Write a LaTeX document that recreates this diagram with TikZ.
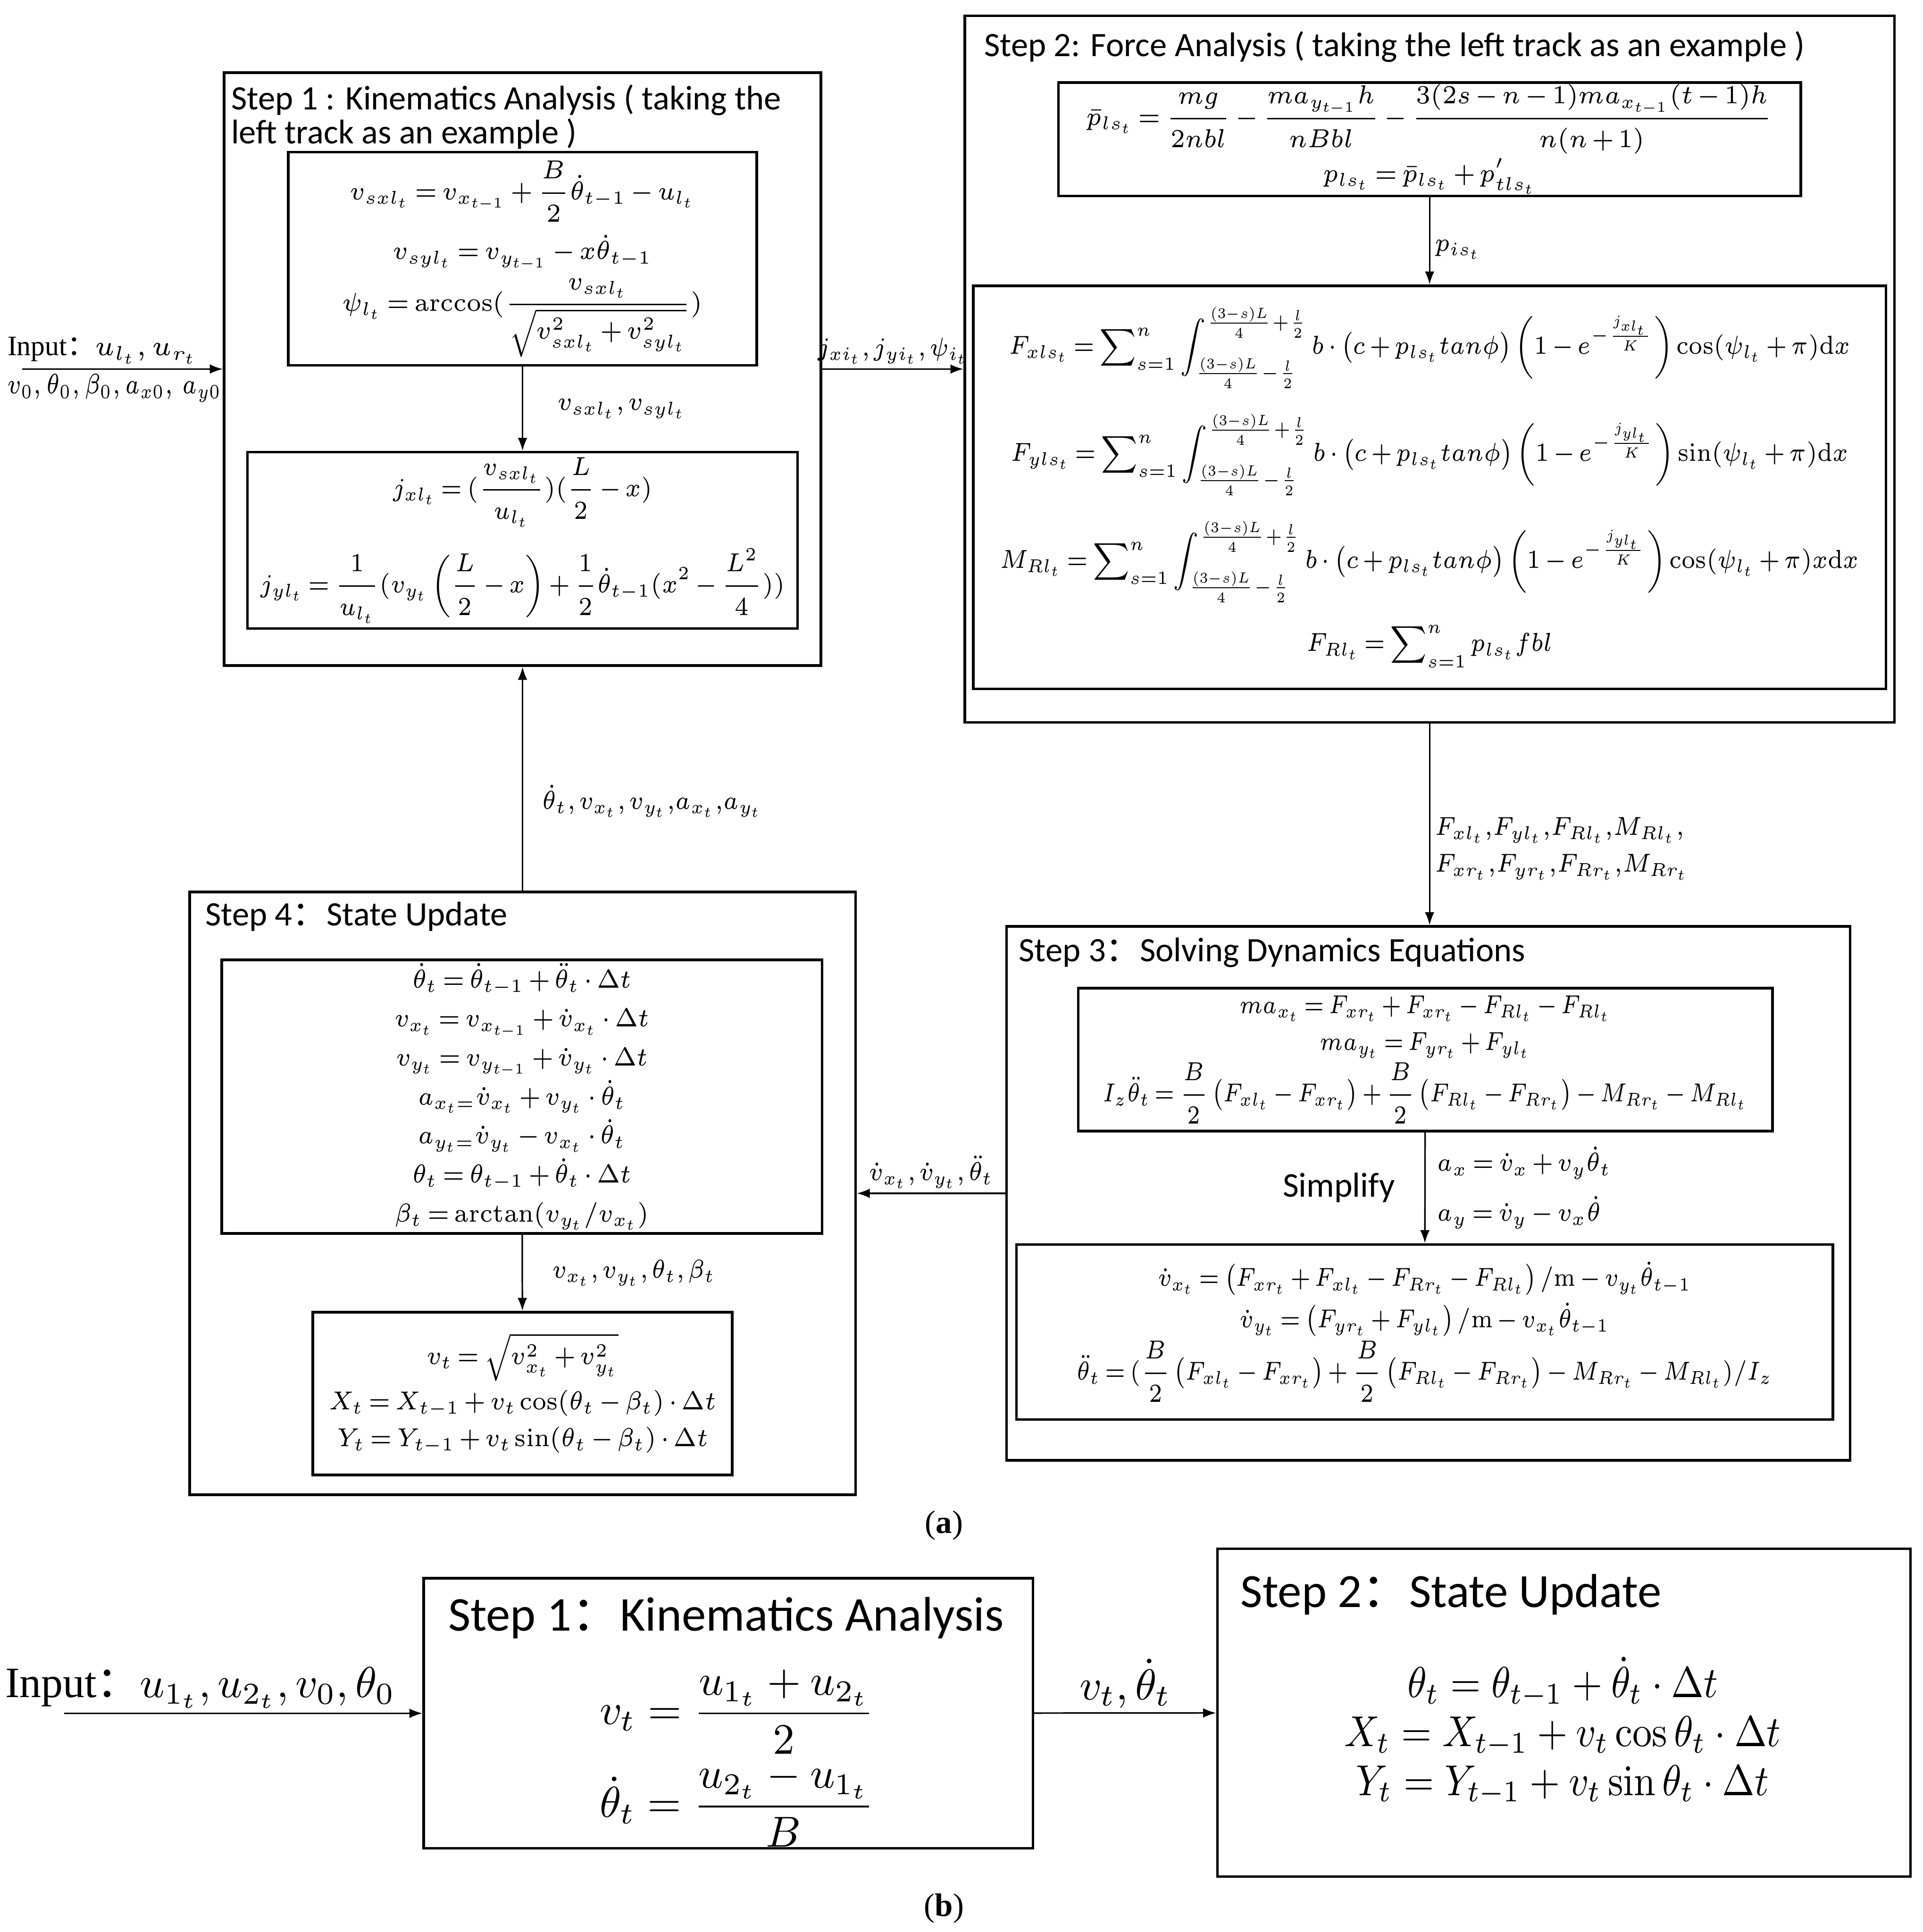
\RequirePackage{fix-cm}
\documentclass[tikz,border=0pt]{standalone}
\usepackage{amsmath}
\usepackage{graphicx}
\usepackage[no-math]{fontspec}
\setmainfont{Liberation Serif}
\newfontfamily\calibri{Carlito}
\newfontfamily\cjk{Noto Sans CJK SC}
\usetikzlibrary{arrows.meta}
\DeclareMathSizes{6}{6}{4.3}{3.4}
\DeclareMathSizes{6.5}{6.5}{4.6}{3.6}
\newcommand{\dcolon}{{\cjk ：}}
\newcommand{\apretar}{\thickmuskip=3mu\medmuskip=2.5mu\thinmuskip=2mu}
\newcommand{\eq}[2][0.9]{\scalebox{#1}[1]{$\displaystyle #2$}}
\begin{document}
\begin{tikzpicture}[
    x=0.01cm, y=-0.01cm,
    marco/.style={rectangle, draw, line width=0.6pt, inner sep=0pt},
    caja/.style={rectangle, draw, line width=0.6pt, align=center, inner sep=0pt, font=\fontsize{6}{9}\selectfont\apretar},
    titulo/.style={anchor=west, align=left, inner sep=0pt, font=\calibri\fontsize{7.9}{7.8}\selectfont},
    etiqueta/.style={align=left, inner sep=1pt, font=\fontsize{6}{8.5}\selectfont\apretar},
    flecha/.style={-{Latex[length=3pt,width=2.2pt]}, line width=0.35pt}
  ]
  \useasboundingbox (0,0) rectangle (1560,1568);

  \node[marco, minimum width=4.84cm, minimum height=4.81cm] (s1) at (424,299.5) {};
  \node[titulo, anchor=north west] (t1) at (187,68) {Step 1 : Kinematics Analysis ( taking the\\left track as an example )};
  \node[caja, minimum width=3.8cm, minimum height=1.73cm] (s1a) at (424,210) {%
    \eq[0.92]{v_{sxl_t}=v_{x_{t-1}}+\frac{B}{2}\dot{\theta}_{t-1}-u_{l_t}}\\[2pt]
    \eq[0.92]{v_{syl_t}=v_{y_{t-1}}-x\dot{\theta}_{t-1}}\\[1pt]
    \eq[0.92]{\psi_{l_t}=\arccos(\frac{v_{sxl_t}}{\sqrt{v_{sxl_t}^2+v_{syl_t}^2}})}};
  \node[caja, minimum width=4.46cm, minimum height=1.43cm] (s1b) at (424,438.5) {%
    \eq[0.88]{j_{xl_t}=(\frac{v_{sxl_t}}{u_{l_t}})(\frac{L}{2}-x)}\\[4pt]
    \eq[0.88]{j_{yl_t}=\frac{1}{u_{l_t}}(v_{y_t}\left(\frac{L}{2}-x\right)+\frac{1}{2}\dot{\theta}_{t-1}(x^2-\frac{L^2}{4}))}};

  \node[marco, minimum width=7.54cm, minimum height=5.73cm] (s2) at (1160,299.5) {};
  \node[titulo] (t2) at (798,38) {Step 2: Force Analysis ( taking the left track as an example )};
  \node[caja, minimum width=6.02cm, minimum height=0.92cm, font=\fontsize{6}{8}\selectfont\apretar] (s2a) at (1160,113) {%
    \eq[0.92]{\bar{p}_{ls_t}=\frac{mg}{2nbl}-\frac{ma_{y_{t-1}}h}{nBbl}-\frac{3(2s-n-1)ma_{x_{t-1}}(t-1)h}{n(n+1)}}\\
    \eq[0.92]{p_{ls_t}=\bar{p}_{ls_t}+p'_{tls_t}}};
  \node[caja, minimum width=7.4cm, minimum height=3.27cm] (s2b) at (1160,395.5) {%
    \eq[0.87]{F_{xls_t}=\sum\nolimits_{s=1}^{n}\int_{\frac{(3-s)L}{4}-\frac{l}{2}}^{\frac{(3-s)L}{4}+\frac{l}{2}}b\cdot\left(c+p_{ls_t}tan\phi\right)\left(1-e^{-\frac{j_{xl_t}}{K}}\right)\cos(\psi_{l_t}+\pi)\mathrm{d}x}\\[5pt]
    \eq[0.87]{F_{yls_t}=\sum\nolimits_{s=1}^{n}\int_{\frac{(3-s)L}{4}-\frac{l}{2}}^{\frac{(3-s)L}{4}+\frac{l}{2}}b\cdot\left(c+p_{ls_t}tan\phi\right)\left(1-e^{-\frac{j_{yl_t}}{K}}\right)\sin(\psi_{l_t}+\pi)\mathrm{d}x}\\[5pt]
    \eq[0.87]{M_{Rl_t}=\sum\nolimits_{s=1}^{n}\int_{\frac{(3-s)L}{4}-\frac{l}{2}}^{\frac{(3-s)L}{4}+\frac{l}{2}}b\cdot\left(c+p_{ls_t}tan\phi\right)\left(1-e^{-\frac{j_{yl_t}}{K}}\right)\cos(\psi_{l_t}+\pi)x\mathrm{d}x}\\[4pt]
    \eq[0.87]{F_{Rl_t}=\sum\nolimits_{s=1}^{n}p_{ls_t}fbl}};

  \node[marco, minimum width=6.84cm, minimum height=4.33cm] (s3) at (1159,968.5) {};
  \node[titulo] (t3) at (826,773) {Step 3\dcolon Solving Dynamics Equations};
  \node[caja, minimum width=5.63cm, minimum height=1.16cm, font=\fontsize{6}{8.5}\selectfont\apretar] (s3a) at (1156.5,860) {%
    \eq[0.82]{ma_{x_t}=F_{xr_t}+F_{xr_t}-F_{Rl_t}-F_{Rl_t}}\\
    \eq[0.82]{ma_{y_t}=F_{yr_t}+F_{yl_t}}\\
    \eq[0.82]{I_z\ddot{\theta}_t=\frac{B}{2}\left(F_{xl_t}-F_{xr_t}\right)+\frac{B}{2}\left(F_{Rl_t}-F_{Rr_t}\right)-M_{Rr_t}-M_{Rl_t}}};
  \node[caja, minimum width=6.62cm, minimum height=1.42cm, font=\fontsize{6}{9.5}\selectfont\apretar] (s3b) at (1156,1081) {%
    \eq[0.84]{\dot{v}_{x_t}=\left(F_{xr_t}+F_{xl_t}-F_{Rr_t}-F_{Rl_t}\right)/\mathrm{m}-v_{y_t}\dot{\theta}_{t-1}}\\
    \eq[0.84]{\dot{v}_{y_t}=\left(F_{yr_t}+F_{yl_t}\right)/\mathrm{m}-v_{x_t}\dot{\theta}_{t-1}}\\
    \eq[0.84]{\ddot{\theta}_t=(\frac{B}{2}\left(F_{xl_t}-F_{xr_t}\right)+\frac{B}{2}\left(F_{Rl_t}-F_{Rr_t}\right)-M_{Rr_t}-M_{Rl_t})/I_z}};

  \node[marco, minimum width=5.4cm, minimum height=4.89cm] (s4) at (424,968.5) {};
  \node[titulo] (t4) at (166,744) {Step 4\dcolon State Update};
  \node[caja, minimum width=4.87cm, minimum height=2.22cm, font=\fontsize{6}{9}\selectfont\apretar] (s4a) at (423.5,890) {%
    \eq{\dot{\theta}_t=\dot{\theta}_{t-1}+\ddot{\theta}_t\cdot\Delta t}\\
    \eq{v_{x_t}=v_{x_{t-1}}+\dot{v}_{x_t}\cdot\Delta t}\\
    \eq{v_{y_t}=v_{y_{t-1}}+\dot{v}_{y_t}\cdot\Delta t}\\
    \eq{a_{x_t=}\dot{v}_{x_t}+v_{y_t}\cdot\dot{\theta}_t}\\
    \eq{a_{y_t=}\dot{v}_{y_t}-v_{x_t}\cdot\dot{\theta}_t}\\
    \eq{\theta_t=\theta_{t-1}+\dot{\theta}_t\cdot\Delta t}\\
    \eq{\beta_t=\arctan(v_{y_t}/v_{x_t})}};
  \node[caja, minimum width=3.4cm, minimum height=1.32cm, font=\fontsize{6}{8.5}\selectfont\apretar] (s4b) at (424,1131) {%
    \eq{v_t=\sqrt{v_{x_t}^2+v_{y_t}^2}}\\[2pt]
    \eq{X_t=X_{t-1}+v_t\cos(\theta_t-\beta_t)\cdot\Delta t}\\
    \eq{Y_t=Y_{t-1}+v_t\sin(\theta_t-\beta_t)\cdot\Delta t}};

  \coordinate (ina) at (18,299.5);
  \draw[flecha] (ina) -- node[etiqueta, above, pos=0.4, font=\fontsize{6.5}{8}\selectfont] {Input\dcolon\eq[0.95]{u_{l_t},u_{r_t}}}
    node[etiqueta, below, pos=0.46, font=\fontsize{6.5}{8}\selectfont] {\eq[0.78]{v_0,\theta_0,\beta_0,a_{x0},\,a_{y0}}} (s1);
  \draw[flecha] (s1) -- node[etiqueta, above] {\eq[0.88]{j_{xi_t},j_{yi_t},\psi_{i_t}}} (s2);
  \draw[flecha] (s1a) -- node[etiqueta, right, xshift=0.24cm] {\eq[0.9]{v_{sxl_t},v_{syl_t}}} (s1b);
  \draw[flecha] (s2a) -- node[etiqueta, right, pos=0.6] {\eq{p_{is_t}}} (s2b);
  \draw[flecha] (s2.south) -- node[etiqueta, right, pos=0.62] {\eq[0.88]{F_{xl_t}{,}F_{yl_t}{,}F_{Rl_t}{,}M_{Rl_t}{,}}\\\eq[0.88]{F_{xr_t}{,}F_{yr_t}{,}F_{Rr_t}{,}M_{Rr_t}}} (s2.south |- s3.north);
  \draw[flecha] (s3a) -- node[etiqueta, right, xshift=0.06cm] {\eq[0.88]{a_x=\dot{v}_x+v_y\dot{\theta}_t}\\[3pt]\eq[0.88]{a_y=\dot{v}_y-v_x\dot{\theta}}}
    node[left, xshift=-0.12cm, font=\calibri\fontsize{8}{9}\selectfont] {Simplify} (s3b);
  \draw[flecha] (s3) -- node[etiqueta, above] {\eq[0.88]{\dot{v}_{x_t}{,}\,\dot{v}_{y_t}{,}\,\ddot{\theta}_t}} (s4);
  \draw[flecha] (s4a) -- node[etiqueta, right, xshift=0.2cm] {\eq[0.88]{v_{x_t}{,}\,v_{y_t}{,}\,\theta_t{,}\,\beta_t}} (s4b);
  \draw[flecha] (s4) -- node[etiqueta, right, pos=0.4, xshift=0.12cm] {\eq[0.88]{\dot{\theta}_t,v_{x_t},v_{y_t}{,}a_{x_t}{,}a_{y_t}}} (s1);

  \node[font=\fontsize{7.5}{9}\selectfont] (lba) at (766,1238) {(\textbf{a})};

  \node[marco, minimum width=4.94cm, minimum height=2.19cm] (b1) at (591,1390.5) {};
  \node[titulo, font=\calibri\fontsize{11.2}{13}\selectfont] (tb1) at (363,1313) {Step 1\dcolon Kinematics Analysis};
  \node[etiqueta, align=center, font=\fontsize{10}{13}\selectfont] (eb1) at (598,1427) {%
    $\displaystyle v_t=\frac{u_{1_t}+u_{2_t}}{2}$\\[1pt]
    $\displaystyle \dot{\theta}_t=\frac{u_{2_t}-u_{1_t}}{B}$};
  \node[marco, minimum width=5.62cm, minimum height=2.66cm] (b2) at (1269,1390) {};
  \node[titulo, font=\calibri\fontsize{11}{13}\selectfont] (tb2) at (1006,1294) {Step 2\dcolon State Update};
  \node[etiqueta, align=center, font=\fontsize{10}{11.3}\selectfont] (eb2) at (1268,1405) {%
    \eq[0.9]{\theta_t=\theta_{t-1}+\dot{\theta}_t\cdot\Delta t}\\
    \eq[0.9]{X_t=X_{t-1}+v_t\cos\theta_t\cdot\Delta t}\\
    \eq[0.9]{Y_t=Y_{t-1}+v_t\sin\theta_t\cdot\Delta t}};

  \coordinate (inb) at (52,1390.5);
  \draw[flecha] (inb) -- node[etiqueta, above, pos=0.38, font=\fontsize{10}{12}\selectfont] {Input\dcolon$u_{1_t},u_{2_t},v_0,\theta_0$} (b1);
  \draw[flecha] (b1) -- node[etiqueta, above, font=\fontsize{10}{12}\selectfont] {$v_t,\dot{\theta}_t$} (b2);

  \node[font=\fontsize{7.5}{9}\selectfont] (lbb) at (766,1549) {(\textbf{b})};
\end{tikzpicture}
\end{document}
